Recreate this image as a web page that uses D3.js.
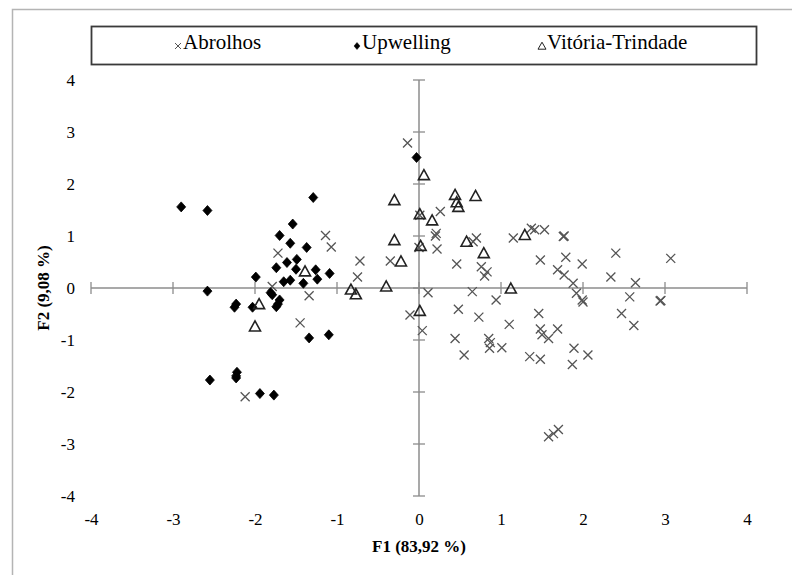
<!DOCTYPE html>
<html>
<head>
<meta charset="utf-8">
<script src="https://cdn.jsdelivr.net/npm/d3@7"></script>
<style>
  body { margin: 0; background: #fff; }
  svg { display: block; font-family: "Liberation Serif", "Times New Roman", serif; }
</style>
</head>
<body>
<div id="chart-area"></div>
<script>
// scores on the first two factors (F1, F2)
var abrolhos = [
  [-1.14, 1.01], [-1.07, 0.79], [-1.72, 0.67], [-1.79, 0.03], [-1.34, -0.15], [-1.45, -0.67], [-2.12, -2.09],
  [-0.14, 2.79], [-0.72, 0.52], [-0.75, 0.21], [-0.35, 0.52],
  [0.26, 1.47], [0.21, 1.05], [0.20, 1.00], [0.22, 0.75], [0.00, 0.78], [0.01, 1.40],
  [0.70, 0.96], [0.66, 0.89], [0.46, 0.46], [0.76, 0.41], [0.83, 0.31], [0.80, 0.23],
  [0.11, -0.09], [0.65, -0.07], [0.94, -0.23], [-0.11, -0.52], [0.04, -0.82], [0.48, -0.41], [0.73, -0.56],
  [0.44, -0.97], [0.55, -1.29], [0.85, -0.97], [0.87, -1.05], [0.86, -1.16],
  [1.15, 0.96], [1.37, 1.15], [1.41, 1.12], [1.53, 1.12], [1.76, 0.99], [1.77, 1.00],
  [1.48, 0.54], [1.79, 0.59], [1.99, 0.46], [1.69, 0.35], [1.77, 0.25], [1.88, 0.09], [1.92, -0.10],
  [1.99, -0.23], [2.00, -0.27],
  [2.40, 0.67], [2.34, 0.21], [2.64, 0.10], [2.57, -0.17], [2.94, -0.25], [2.95, -0.24], [3.07, 0.57],
  [2.47, -0.49], [2.62, -0.72],
  [1.01, -1.15], [1.10, -0.70], [1.35, -1.32], [1.48, -1.37], [1.46, -0.49], [1.48, -0.79], [1.50, -0.90],
  [1.58, -0.97], [1.69, -0.79], [1.89, -1.16], [2.06, -1.29], [1.87, -1.47],
  [1.58, -2.86], [1.64, -2.80], [1.70, -2.72]
];

var upwelling = [
  [-2.90, 1.56], [-2.58, 1.49], [-1.29, 1.74], [-1.54, 1.23], [-1.70, 1.01], [-1.57, 0.86], [-1.37, 0.78],
  [-1.49, 0.55], [-1.61, 0.49], [-1.74, 0.39], [-1.50, 0.36], [-1.26, 0.35], [-1.09, 0.28], [-1.24, 0.17],
  [-1.57, 0.15], [-1.65, 0.12], [-1.41, 0.09], [-1.99, 0.21], [-2.58, -0.06], [-1.81, -0.09], [-1.79, -0.13],
  [-1.70, -0.23], [-1.72, -0.31], [-1.74, -0.36], [-2.23, -0.31], [-2.25, -0.37], [-2.03, -0.37],
  [-1.34, -0.96], [-1.10, -0.90], [-2.55, -1.77], [-2.22, -1.62], [-2.23, -1.69], [-2.23, -1.73],
  [-1.94, -2.03], [-1.77, -2.06], [-0.03, 2.51]
];

var vitoria = [
  [0.06, 2.17], [-0.30, 1.69], [0.44, 1.79], [0.69, 1.77], [0.46, 1.65], [0.48, 1.56], [0.01, 1.42],
  [0.16, 1.30], [-0.30, 0.92], [0.02, 0.81], [0.58, 0.89], [0.79, 0.67], [-0.22, 0.51], [-1.39, 0.32],
  [-0.83, -0.03], [-0.77, -0.12], [-0.40, 0.03], [0.01, -0.44], [1.12, -0.01], [1.29, 1.02],
  [-1.95, -0.31], [-2.00, -0.74]
];

var seriesNames = ["Abrolhos", "Upwelling", "Vitória-Trindade"];
var xTicks = [-4, -3, -2, -1, 0, 1, 2, 3, 4];
var yTicks = [-4, -3, -2, -1, 0, 1, 2, 3, 4];
var xTitle = "F1 (83,92 %)";
var yTitle = "F2 (9,08 %)";

var width = 792, height = 575;

var svg = d3.select("#chart-area").append("svg")
  .attr("width", width).attr("height", height);

// outer frame (only top and left edges show)
svg.append("path")
  .attr("d", "M12.5," + height + "V9.5H" + width)
  .attr("fill", "none").attr("stroke", "#b4b4b4").attr("stroke-width", 1.5);

var x = d3.scaleLinear().domain([-4, 4]).range([91, 747]);
var y = d3.scaleLinear().domain([-4, 4]).range([496, 80]);

// axes crossing at the origin
var axisColor = "#8c8c8c";
svg.append("line")
  .attr("x1", x(-4)).attr("x2", x(4)).attr("y1", y(0)).attr("y2", y(0))
  .attr("stroke", axisColor).attr("stroke-width", 1.5);
svg.append("line")
  .attr("x1", x(0)).attr("x2", x(0)).attr("y1", y(4)).attr("y2", y(-4))
  .attr("stroke", axisColor).attr("stroke-width", 1.5);

svg.selectAll(".xtick").data(xTicks).enter().append("line")
  .attr("class", "xtick")
  .attr("x1", (d) => x(d)).attr("x2", (d) => x(d))
  .attr("y1", y(0) - 6).attr("y2", y(0) + 6)
  .attr("stroke", axisColor).attr("stroke-width", 1.3);
svg.selectAll(".ytick").data(yTicks).enter().append("line")
  .attr("class", "ytick")
  .attr("x1", x(0) - 6).attr("x2", x(0) + 6)
  .attr("y1", (d) => y(d)).attr("y2", (d) => y(d))
  .attr("stroke", axisColor).attr("stroke-width", 1.3);

// tick labels through d3 axes, without their own lines (plain hyphen for minus)
var fmt = (d) => String(d);
var xAxis = d3.axisBottom(x).tickValues(xTicks).tickSize(0).tickPadding(0).tickFormat(fmt);
var yAxis = d3.axisLeft(y).tickValues(yTicks).tickSize(0).tickPadding(0).tickFormat(fmt);

var xAxisGroup = svg.append("g").attr("transform", "translate(0,513)").call(xAxis);
var yAxisGroup = svg.append("g").attr("transform", "translate(75,0)").call(yAxis);
[xAxisGroup, yAxisGroup].forEach((g) => {
  g.select(".domain").remove();
  g.selectAll("text")
    .attr("font-family", "Liberation Serif, Times New Roman, serif")
    .attr("font-size", "17px").attr("fill", "#000");
});
yAxisGroup.selectAll("text").attr("dy", "0.34em");

svg.append("text")
  .attr("x", x(0)).attr("y", 552)
  .attr("text-anchor", "middle").attr("font-size", "17px").attr("font-weight", "bold")
  .text(xTitle);
svg.append("text")
  .attr("transform", "translate(49," + y(0) + ") rotate(-90)")
  .attr("text-anchor", "middle").attr("font-size", "17px").attr("font-weight", "bold")
  .text(yTitle);

// marker shapes
var crossPath = "M-4.5,-4.5L4.5,4.5M-4.5,4.5L4.5,-4.5";
var diamondPath = "M0,-5L4.5,0L0,5L-4.5,0Z";
var trianglePath = "M0,-5.5L5.5,4.5L-5.5,4.5Z";

var plot = svg.append("g");

plot.selectAll(".abrolhos").data(abrolhos).enter().append("path")
  .attr("class", "abrolhos")
  .attr("transform", (d) => "translate(" + x(d[0]) + "," + y(d[1]) + ")")
  .attr("d", crossPath)
  .attr("fill", "none").attr("stroke", "#555").attr("stroke-width", 1.3);

plot.selectAll(".upwelling").data(upwelling).enter().append("path")
  .attr("class", "upwelling")
  .attr("transform", (d) => "translate(" + x(d[0]) + "," + y(d[1]) + ")")
  .attr("d", diamondPath)
  .attr("fill", "#000").attr("stroke", "#000").attr("stroke-width", 0.8);

plot.selectAll(".vitoria").data(vitoria).enter().append("path")
  .attr("class", "vitoria")
  .attr("transform", (d) => "translate(" + x(d[0]) + "," + y(d[1]) + ")")
  .attr("d", trianglePath)
  .attr("fill", "none").attr("stroke", "#222").attr("stroke-width", 1.6);

// legend
svg.append("rect")
  .attr("x", 91.5).attr("y", 26.5).attr("width", 665).attr("height", 38)
  .attr("fill", "#fff").attr("stroke", "#3a3a3a").attr("stroke-width", 1.8);

var legendX = [178, 357, 542];
var legendShapes = [
  { d: "M-3,-3L3,3M-3,3L3,-3", fill: "none", stroke: "#555", sw: 1 },
  { d: "M0,-3.5L3,0L0,3.5L-3,0Z", fill: "#000", stroke: "#000", sw: 0.5 },
  { d: "M0,-3.8L4,3.2L-4,3.2Z", fill: "none", stroke: "#222", sw: 1 }
];

seriesNames.forEach((name, i) => {
  var row = svg.append("g").attr("transform", "translate(" + legendX[i] + ",46)");
  row.append("path")
    .attr("d", legendShapes[i].d)
    .attr("fill", legendShapes[i].fill)
    .attr("stroke", legendShapes[i].stroke)
    .attr("stroke-width", legendShapes[i].sw);
  row.append("text")
    .attr("x", 5).attr("y", 3)
    .attr("font-size", "21px")
    .text(name);
});
</script>
</body>
</html>
